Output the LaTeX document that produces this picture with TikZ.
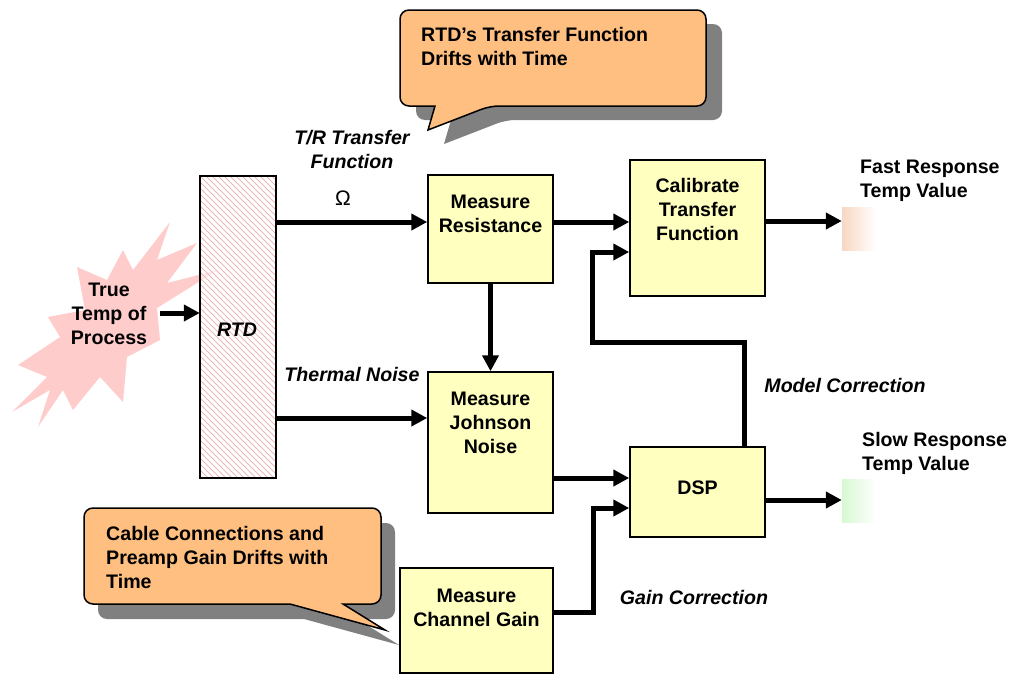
\documentclass[tikz,border=0pt]{standalone}
\usepackage{fontspec}
\setmainfont{Liberation Sans}
\usetikzlibrary{arrows.meta}
\definecolor{boxfill}{RGB}{255,255,192}
\definecolor{callc}{RGB}{255,191,128}
\definecolor{shadowc}{RGB}{128,128,128}
\definecolor{burstc}{RGB}{255,204,204}
\definecolor{hatchc}{RGB}{236,185,185}
\definecolor{fastc}{RGB}{248,215,195}
\definecolor{slowc}{RGB}{215,248,210}
\begin{document}
\begin{tikzpicture}[x=1pt,y=-1pt,
  font=\bfseries\fontsize{19.6}{24}\selectfont,
  box/.style={draw=black, line width=1.5pt, fill=boxfill, inner sep=0pt},
  arr/.style={line width=5pt, -{Triangle[length=16pt,width=16pt]}},
  lbl/.style={inner sep=0pt, align=center},
  itl/.style={inner sep=0pt, align=center, font=\bfseries\itshape\fontsize{19.6}{24}\selectfont},
  outbox/.style={inner sep=0pt, minimum width=34pt, minimum height=43pt}]
\useasboundingbox (0,0) rectangle (1010,675);

% callout 1 (top)
\fill[shadowc, shift={(16,14)}] (400,58) [rounded corners=9pt] -- (400,10) -- (706,10) -- (706,106) -- (490,106) [sharp corners] -- (428,130) -- (435,106) [rounded corners=9pt] -- (400,106) -- cycle;
\draw[fill=callc, line width=1.5pt] (400,58) [rounded corners=9pt] -- (400,10) -- (706,10) -- (706,106) -- (490,106) [sharp corners] -- (428,130) -- (435,106) [rounded corners=9pt] -- (400,106) -- cycle;
\node[lbl, anchor=west, align=left] (c1t) at (421,46) {RTD’s Transfer Function\\Drifts with Time};

% callout 2 (bottom)
\fill[shadowc, shift={(14,15)}] (84,556) [rounded corners=9pt] -- (84,508) -- (381,508) -- (381,604) [sharp corners] -- (343,604) -- (385,630) -- (290,604) [rounded corners=9pt] -- (84,604) -- cycle;
\draw[fill=callc, line width=1.5pt] (84,556) [rounded corners=9pt] -- (84,508) -- (381,508) -- (381,604) [sharp corners] -- (343,604) -- (385,630) -- (290,604) [rounded corners=9pt] -- (84,604) -- cycle;
\node[lbl, anchor=west, align=left] (c2t) at (106,557) {Cable Connections and\\Preamp Gain Drifts with\\Time};

% burst
\fill[burstc] (170,222) -- (157,260) -- (197,243) -- (167,283) -- (218,270) -- (157,308)
  -- (160,340) -- (127,357) -- (123,402) -- (100,377) -- (73,410) -- (63,390) -- (38,427)
  -- (50,390) -- (12,412) -- (47,377) -- (18,365) -- (60,337) -- (48,317) -- (85,310)
  -- (77,267) -- (107,280) -- (123,250) -- (133,270) -- cycle;
\node[lbl] (burst) at (109,314) {True\\Temp of\\Process};
\coordinate (bend) at (160,313);

% RTD
\node[fill=white, fill opacity=0.6, inner sep=0pt, minimum width=76pt, minimum height=302pt] (rtd) at (238,327) {};
\begin{scope}
\clip (200,176) rectangle (276,478);
\foreach \i in {-84,-78,...,310} \draw[hatchc, line width=0.8pt] (200,176+\i) -- ++(80,80);
\end{scope}
\draw[line width=1.5pt] (rtd.north west) rectangle (rtd.south east);
\node[itl] (rtdt) at (237,330) {RTD};

% blocks
\node[box, minimum width=125pt, minimum height=108pt] (mr) at (490.5,229) {};
\node[lbl] (mrt) at (490.5,214) {Measure\\Resistance};
\node[box, minimum width=125pt, minimum height=141pt] (jn) at (490.5,442.5) {};
\node[lbl] (jnt) at (490.5,423) {Measure\\Johnson\\Noise};
\node[box, minimum width=153pt, minimum height=105pt] (cg) at (476.5,620.5) {};
\node[lbl] (cgt) at (476.5,608) {Measure\\Channel Gain};
\node[box, minimum width=135pt, minimum height=136pt] (ct) at (697.5,228) {};
\node[lbl] (ctt) at (697.5,209) {Calibrate\\Transfer\\Function};
\node[box, minimum width=135pt, minimum height=90pt] (dsp) at (697.5,492) {};
\node[lbl] (dspt) at (697.5,488) {DSP};

% outputs
\node[outbox, left color=fastc, right color=white] (fast) at (859,228.5) {};
\node[outbox, left color=slowc, right color=white] (slow) at (859,501) {};
\node[lbl, anchor=west, align=left] (fastt) at (860,181) {Fast Response\\Temp Value};
\node[lbl, anchor=west, align=left] (slowt) at (862,453) {Slow Response\\Temp Value};

% labels
\node[itl] (trl) at (352,149) {T/R Transfer\\Function};
\node[inner sep=0pt, font=\mdseries\fontsize{21}{24}\selectfont] (ohm) at (343,198) {Ω};
\node[itl] (tnl) at (352,374) {Thermal Noise};
\node[itl] (mcl) at (845,385) {Model Correction};
\node[itl] (gcl) at (694,597) {Gain Correction};

% anchor points
\coordinate (mrin) at ([yshift=7pt]mr.west);
\coordinate (jnin) at ([yshift=24.5pt]jn.west);
\coordinate (mrout) at ([yshift=7pt]mr.east);
\coordinate (ctout) at ([yshift=7pt]ct.east);
\coordinate (dspin1) at ([yshift=14pt]dsp.west);
\coordinate (dspin2) at ([yshift=-16pt]dsp.west);
\coordinate (dspbend) at ([xshift=-36pt,yshift=-16pt]dsp.west);
\coordinate (cgout) at ([yshift=8.5pt]cg.east);
\coordinate (dsptop) at ([xshift=46.5pt]dsp.north);
\coordinate (ctin2) at ([yshift=-24pt]ct.west);
\coordinate (ctbend) at ([xshift=-37pt,yshift=-24pt]ct.west);
\coordinate (dspout) at ([yshift=-8pt]dsp.east);

% connectors
\draw[arr] (bend) -- (bend -| rtd.west);
\draw[arr] (rtd.east |- mrin) -- (mrin);
\draw[arr] (rtd.east |- jnin) -- (jnin);
\draw[arr] (mr.south) -- (jn.north);
\draw[arr] (mrout) -- (ct.west |- mrout);
\draw[arr] (ctout) -- (fast.west |- ctout);
\draw[arr] (jn.east |- dspin1) -- (dspin1);
\draw[arr, line join=miter] (cgout) -| (dspbend) -- (dspin2);
\draw[arr, line join=miter] (dsptop) -- ++(0,-104) -| (ctbend) -- (ctin2);
\draw[arr] (dspout) -- (slow.west |- dspout);
\end{tikzpicture}
\end{document}
